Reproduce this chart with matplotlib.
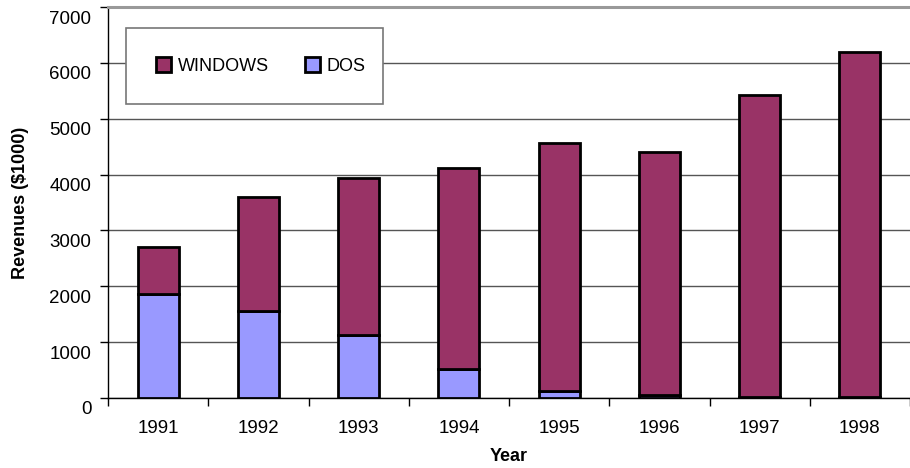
import numpy as np
import matplotlib.pyplot as plt
from matplotlib.patches import Rectangle
from matplotlib.transforms import ScaledTranslation

plt.rcParams['font.family'] = ['Liberation Sans', 'DejaVu Sans']

# Data
years = ['1991', '1992', '1993', '1994', '1995', '1996', '1997', '1998']
dos = [1865, 1560, 1125, 525, 130, 50, 15, 10]
windows = [840, 2040, 2820, 3590, 4430, 4360, 5410, 6190]

win_color = '#993366'
dos_color = '#9999FF'

fig = plt.figure(figsize=(9.1, 4.68), dpi=100)
ax = fig.add_axes([0.1187, 0.1496, 0.8813, 0.8354])

x = np.arange(len(years))
ax.bar(x, dos, width=0.41, color=dos_color, edgecolor='black', linewidth=2,
       label='DOS', zorder=3)
ax.bar(x, windows, bottom=dos, width=0.41, color=win_color, edgecolor='black',
       linewidth=2, label='WINDOWS', zorder=3)

ax.set_xlim(-0.5, len(years) - 0.5)
ax.set_ylim(0, 7000)
ax.set_yticks(range(0, 7001, 1000))
ax.set_xticks(x)
ax.set_xticklabels(years)
ax.set_xticks(np.arange(-0.5, len(years), 1.0), minor=True)
ax.tick_params(axis='x', which='major', length=0, pad=16, labelsize=13.5)
ax.tick_params(axis='x', which='minor', length=6, width=1, direction='out')
ax.tick_params(axis='y', length=6, width=1, pad=6, labelsize=13.5)

# y labels sit a little below their ticks in the original
shift = ScaledTranslation(0, -0.1, fig.dpi_scale_trans)
for lab in ax.get_yticklabels():
    lab.set_transform(lab.get_transform() + shift)

ax.yaxis.grid(True, color='#555555', linewidth=1, zorder=0)
ax.spines['right'].set_visible(False)
ax.spines['top'].set_color('#999999')
ax.spines['top'].set_linewidth(2.2)
ax.spines['left'].set_linewidth(1)
ax.spines['bottom'].set_linewidth(1)

ax.set_ylabel('Revenues ($1000)', fontsize=13, fontweight='bold', labelpad=15)
ax.set_xlabel('Year', fontsize=13, fontweight='bold', labelpad=8)

# legend box
box = Rectangle((0.0224, 0.752), 0.32, 0.194, transform=ax.transAxes,
                facecolor='white', edgecolor='#777777', linewidth=1.2, zorder=4)
ax.add_patch(box)
handles, labels = ax.get_legend_handles_labels()
leg = ax.legend(handles[::-1], labels[::-1], loc='center',
                bbox_to_anchor=(0.0224 + 0.168, 0.752 + 0.097), ncol=2,
                frameon=False, fontsize=13, handlelength=0.85,
                handleheight=0.85, handletextpad=0.35, columnspacing=2.0)
leg.set_zorder(5)

fig.savefig('out.png', dpi=100)
